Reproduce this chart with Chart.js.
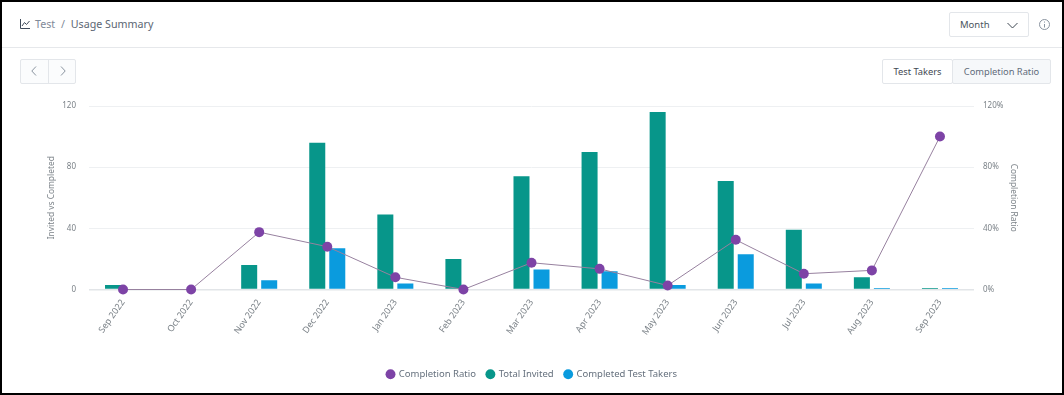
<!DOCTYPE html>
<html>
<head>
<meta charset="utf-8">
<title>Usage Summary</title>
<script src="https://cdn.jsdelivr.net/npm/chart.js@4/dist/chart.umd.min.js"></script>
<style>
  html, body { margin: 0; padding: 0; background: #fff; }
  body { width: 1064px; height: 395px; position: relative; overflow: hidden; font-family: "Noto Sans", sans-serif; color: #5c6673; }
  .frame { position: absolute; inset: 0; border: 2px solid #000; box-sizing: border-box; pointer-events: none; z-index: 5; }
  .rule { position: absolute; left: 2px; right: 2px; top: 47px; height: 1px; background: #e6e8eb; }
  .crumb { position: absolute; left: 35px; top: 15px; font-size: 10.7px; line-height: 18px; white-space: nowrap; }
  .crumb .first { color: #7f8a99; }
  .crumb .sep { margin: 0 3px; color: #7f8a99; }
  .box { position: absolute; box-sizing: border-box; border: 1px solid #e3e6ea; border-radius: 2px; background: #fff; }
  .month { left: 949px; top: 12px; width: 80px; height: 25px; font-size: 9.5px; line-height: 23px; padding-left: 10px; color: #4c5560; }
  .pager { left: 20px; top: 59px; width: 56px; height: 25px; background: #fbfcfd; }
  .pager i { position: absolute; left: 27px; top: 0; bottom: 0; width: 1px; background: #e3e6ea; }
  .tab { top: 59px; height: 25px; font-size: 9.3px; line-height: 23px; text-align: center; }
  .tab1 { left: 882px; width: 71px; color: #3f4852; }
  .tab2 { left: 952px; width: 99px; background: #f6f8fa; color: #5f6b7a; }
  svg { position: absolute; overflow: visible; }
  canvas { position: absolute; left: 0; top: 0; }
</style>
</head>
<body>
<div class="rule"></div>
<svg style="left:20px;top:19px" width="10" height="10" fill="none" stroke="#3f4a5a" stroke-width="1"><path d="M.5 0V9.5H10"/><path d="M2 7L4.5 3.5 6.5 5.5 9.5 2"/></svg>
<div class="crumb"><span class="first">Test</span><span class="sep"> / </span>Usage Summary</div>
<div class="box month">Month</div>
<svg style="left:1007px;top:22px" width="11" height="7" fill="none" stroke="#3f4852" stroke-width="1"><path d="M.5 1L5.5 6 10.5 1"/></svg>
<svg style="left:1039px;top:19px" width="11" height="11" fill="none" stroke="#8a94a0" stroke-width="1"><circle cx="5.5" cy="5.5" r="5"/><path d="M5.5 5V8.5M5.5 2.5V3.6"/></svg>
<div class="box pager"><i></i></div>
<svg style="left:31px;top:66px" width="6" height="10" fill="none" stroke="#8a94a0" stroke-width="1"><path d="M5 .5L.8 5 5 9.5"/></svg>
<svg style="left:60px;top:66px" width="6" height="10" fill="none" stroke="#8a94a0" stroke-width="1"><path d="M1 .5L5.2 5 1 9.5"/></svg>
<div class="box tab tab2">Completion Ratio</div>
<div class="box tab tab1">Test Takers</div>
<canvas id="usage" width="1064" height="395"></canvas>
<div class="frame"></div>
<script>
const months = ["Sep 2022", "Oct 2022", "Nov 2022", "Dec 2022", "Jan 2023", "Feb 2023", "Mar 2023", "Apr 2023", "May 2023", "Jun 2023", "Jul 2023", "Aug 2023", "Sep 2023"];
const totalInvited = [3, 0, 16, 96, 49, 20, 74, 90, 116, 71, 39, 8, 1];
const completedTakers = [0, 0, 6, 27, 4, 0, 13, 12, 3, 23, 4, 1, 1];
const completionRatio = [0, 0, 37.5, 28, 8, 0, 17.5, 13.5, 2.6, 32.5, 10.3, 12.5, 100];
const leftTicks = [0, 40, 80, 120];

const tickColor = "#7b8288";
const gridColor = (ctx) => (ctx.tick.value === 0 ? "#e2e5e8" : "#eef0f2");
const gridWidth = (ctx) => (ctx.tick.value === 0 ? 1.5 : 1);

new Chart(document.getElementById("usage"), {
  data: {
    labels: months,
    datasets: [
      {
        type: "line",
        label: "Completion Ratio",
        data: completionRatio,
        yAxisID: "ratio",
        order: 0,
        clip: false,
        tension: 0,
        borderColor: "#97819f",
        borderWidth: 1,
        backgroundColor: "#7d43a6",
        pointBackgroundColor: "#7d43a6",
        pointBorderWidth: 0,
        pointRadius: 5,
      },
      {
        type: "bar",
        label: "Total Invited",
        data: totalInvited,
        yAxisID: "count",
        order: 1,
        backgroundColor: "#07968a",
        categoryPercentage: 0.588,
        barPercentage: 0.8,
      },
      {
        type: "bar",
        label: "Completed Test Takers",
        data: completedTakers,
        yAxisID: "count",
        order: 1,
        backgroundColor: "#0a9bde",
        categoryPercentage: 0.588,
        barPercentage: 0.8,
      },
    ],
  },
  options: {
    responsive: false,
    animation: false,
    layout: { padding: { left: 0, right: 0, top: 106, bottom: 6 } },
    scales: {
      x: {
        grid: { display: false },
        border: { display: false },
        afterFit: (scale) => { scale.height = 69; },
        ticks: {
          color: tickColor,
          font: { family: "Noto Sans", size: 9 },
          minRotation: 55,
          maxRotation: 55,
          autoSkip: false,
          padding: 0,
        },
      },
      count: {
        position: "left",
        min: 0,
        max: 120,
        afterBuildTicks: (scale) => { scale.ticks = leftTicks.map((value) => ({ value })); },
        afterFit: (scale) => { scale.width = 89; },
        title: { display: true, text: "Invited vs Completed", color: tickColor, font: { family: "Noto Sans", size: 8.4 }, padding: { top: 47, bottom: 0 } },
        grid: { color: gridColor, lineWidth: gridWidth, drawTicks: false },
        border: { display: false },
        ticks: { color: tickColor, font: { family: "Noto Sans", size: 8 }, padding: 13 },
      },
      ratio: {
        position: "right",
        min: 0,
        max: 120,
        afterBuildTicks: (scale) => { scale.ticks = leftTicks.map((value) => ({ value })); },
        afterFit: (scale) => { scale.width = 90; },
        title: { display: true, text: "Completion Ratio", color: tickColor, font: { family: "Noto Sans", size: 8.4 }, padding: { top: 46, bottom: 0 } },
        grid: { display: false },
        border: { display: false },
        ticks: { color: tickColor, font: { family: "Noto Sans", size: 8 }, padding: 1, callback: (value) => value + "%" },
      },
    },
    plugins: {
      tooltip: { enabled: false },
      legend: {
        position: "bottom",
        labels: {
          usePointStyle: true,
          pointStyle: "circle",
          boxHeight: 7,
          boxWidth: 7,
          padding: 11,
          color: "#65707d",
          font: { family: "Noto Sans", size: 9.5 },
        },
      },
    },
  },
});
</script>
</body>
</html>
